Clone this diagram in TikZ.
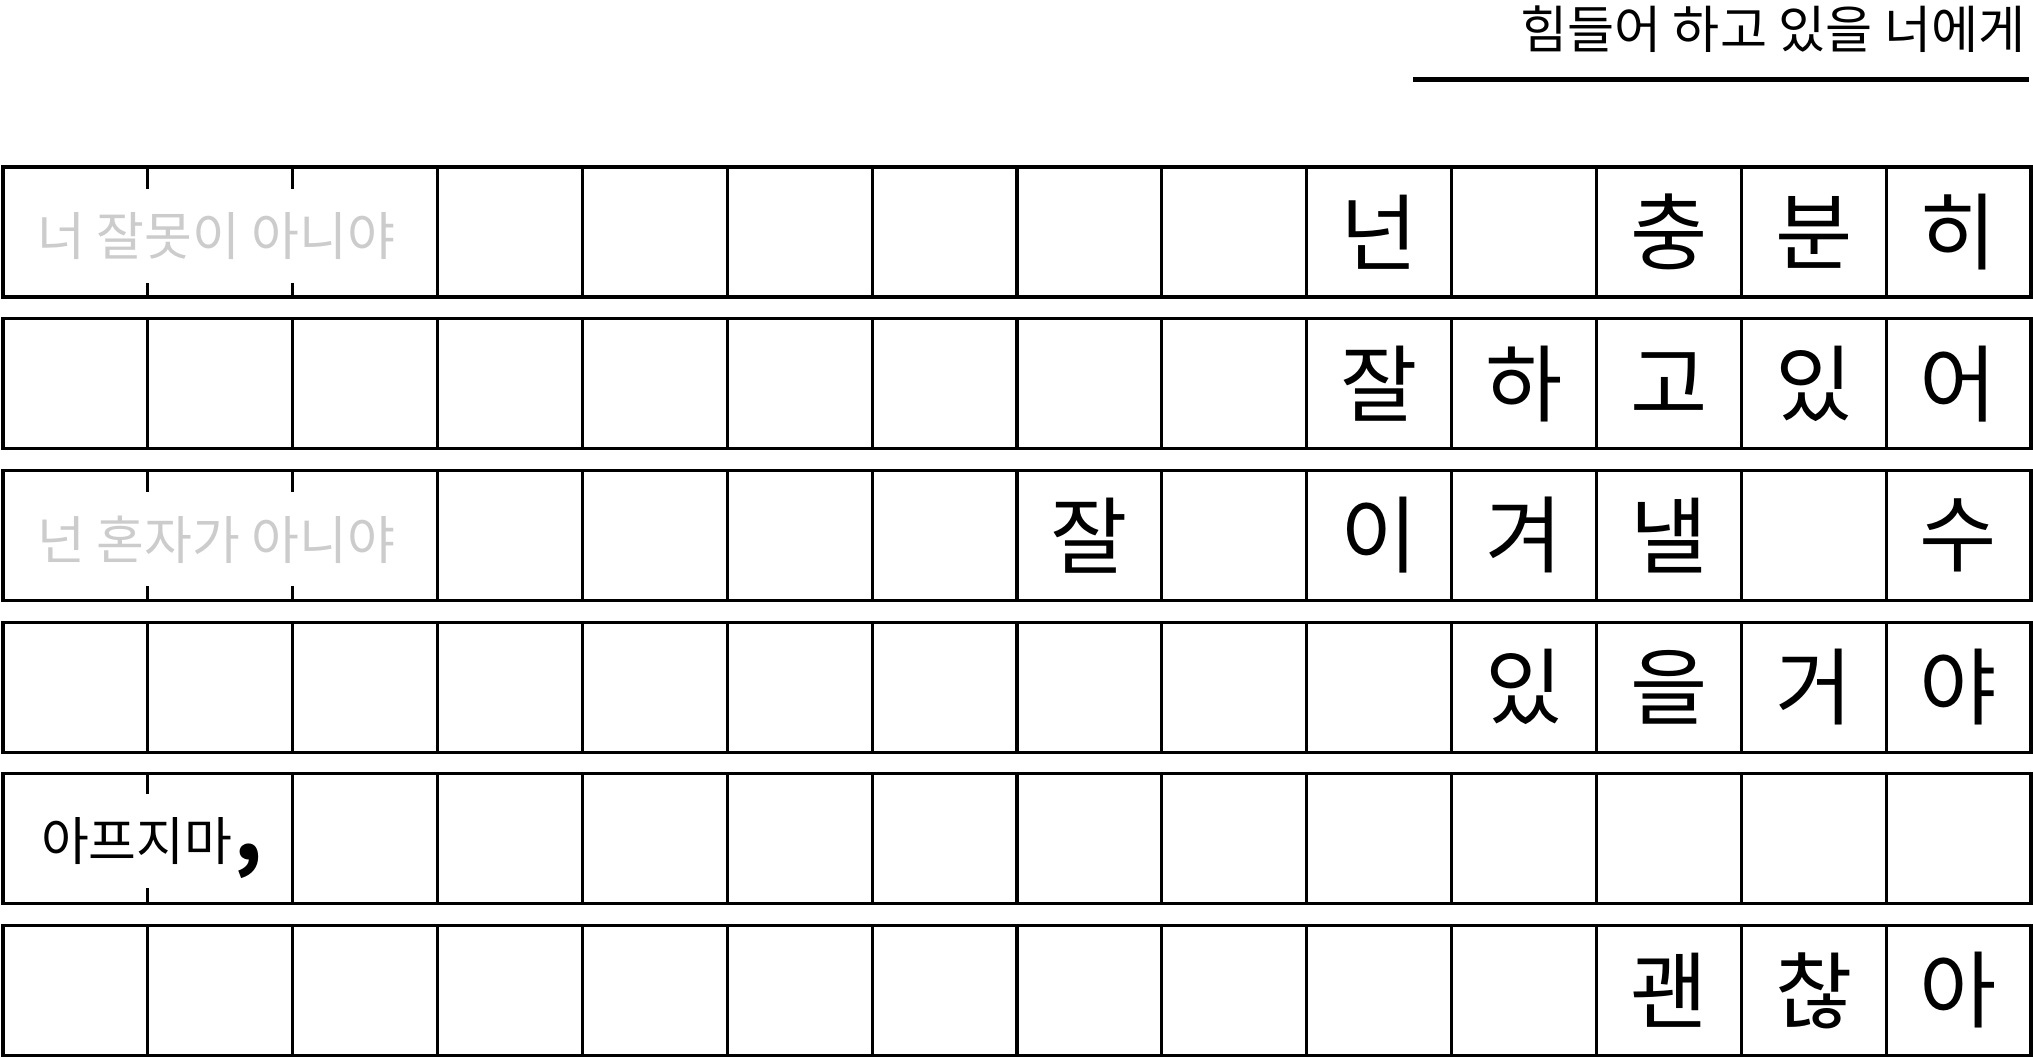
\documentclass[tikz,border=0pt]{standalone}
\usepackage{fontspec}
\setmainfont{Noto Sans CJK KR}
\usetikzlibrary{matrix, positioning}

\begin{document}
\begin{tikzpicture}[s/.style={draw, line width=1.6pt, anchor=center, minimum width=72.43pt, minimum height=65pt, inner sep=0pt, font=\fontsize{42pt}{50pt}\selectfont},m/.style={matrix of nodes, nodes={s}, nodes in empty cells, column sep=-1.6pt, inner sep=0pt, outer sep=0pt},g/.style={fill=white, text=black!20, minimum height=47pt, inner sep=0pt, xshift=-2pt, yshift=-2pt, font=\fontsize{26pt}{30pt}\selectfont}, node distance=9.25pt]
	        \useasboundingbox (0,0) rectangle (1016.5pt,-529.5pt);
	        \node[anchor=east, inner sep=0pt, font=\fontsize{25.6pt}{30pt}\selectfont] (title) at (1013pt,-14.5pt) {힘들어 하고 있을 너에게};
	        \coordinate (u1) at (706.5pt,-39.75pt);
	        \coordinate (u2) at (1014.5pt,-39.75pt);
	        \draw[line width=2.3pt] (u1) -- (u2);
	        \matrix (R1) [m, anchor=north west] at (0.7pt,-82.7pt){
	          &&&&&&&&&넌&&충&분&히\\
	        };
	        \matrix (R2) [m, below=of R1]{
	          &&&&&&&&&잘&하&고&있&어\\
	        };
	        \matrix (R3) [m, below=of R2]{
	          &&&&&&&잘&&이&겨&낼&&수\\
	        };
	        \matrix (R4) [m, below=of R3]{
	          &&&&&&&&&&있&을&거&야\\
	        };
	        \matrix (R5) [m, below=of R4]{
	          &&&&&&&&&&&&&\\
	        };
	        \matrix (R6) [m, below=of R5]{
	          &&&&&&&&&&&괜&찮&아\\
	        };
	        \node[g] (n1) at (R1-1-2) {너 잘못이 아니야};
	        \node[g] (n3) at (R3-1-2) {넌 혼자가 아니야};
	        \node[g, text=black, xshift=4pt, yshift=1pt] (n5) at (R5-1-1.east) {아프지마\hspace{1pt}\smash{\bfseries\fontsize{40pt}{40pt}\selectfont ,}};
	      \end{tikzpicture}
\end{document}
